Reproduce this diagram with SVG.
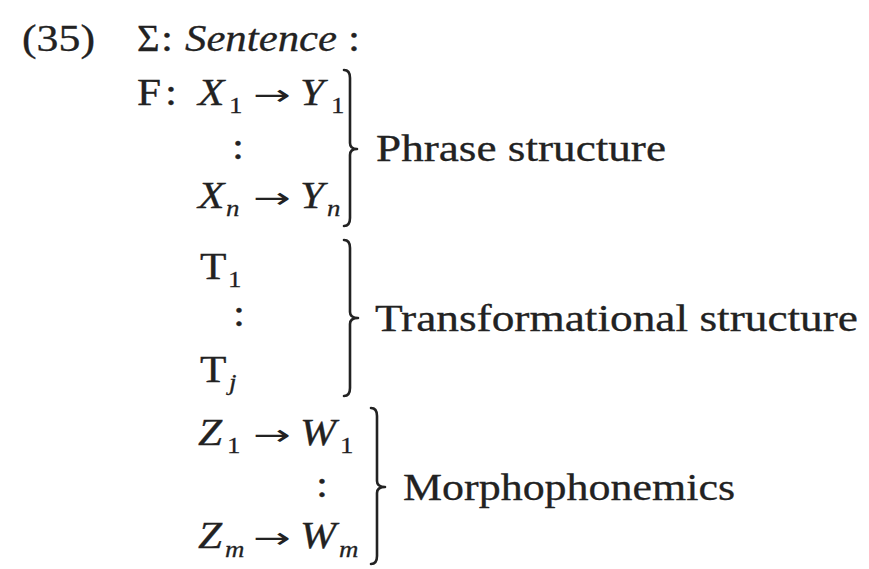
<svg xmlns="http://www.w3.org/2000/svg" width="869" height="569" viewBox="0 0 869 569">
<style>
text { font-family: "Liberation Serif", "Times New Roman", serif; fill: #222222; stroke: #222222; stroke-width: 0.3; font-size: 37px; }
.i { font-style: italic; }
.s { font-size: 23px; stroke-width: 0.25; }
.ar { font-family: "DejaVu Sans", sans-serif; font-size: 29px; stroke-width: 0; }
.br { fill: none; stroke: #222222; stroke-width: 2.6; stroke-linecap: round; stroke-linejoin: round; }
</style>
<rect width="869" height="569" fill="#ffffff"/>
<g id="header">
<text x="22" y="51" textLength="73" lengthAdjust="spacingAndGlyphs">(35)</text>
<text transform="translate(137 51) scale(1.05 1)">Σ</text>
<text transform="translate(161 51) scale(1.17 1)">:</text>
<text class="i" x="185" y="51" textLength="152" lengthAdjust="spacingAndGlyphs">Sentence</text>
<text transform="translate(348 51) scale(1.17 1)">:</text>
</g>
<g id="phrase">
<text transform="translate(137 105) scale(1.17 1)">F</text>
<text transform="translate(165 105) scale(1.17 1)">:</text>
<text class="i" transform="translate(198 105) scale(1.17 1)">X</text>
<text class="s" transform="translate(229 113) scale(1.17 1)">1</text>
<text class="ar" transform="translate(253 105) scale(1.55 1)">→</text>
<text class="i" transform="translate(300 105) scale(1.17 1)">Y</text>
<text class="s" transform="translate(331 113) scale(1.17 1)">1</text>
<text transform="translate(232 159) scale(1.17 1)">:</text>
<text class="i" transform="translate(198 208) scale(1.17 1)">X</text>
<text class="s i" transform="translate(226 216) scale(1.17 1)">n</text>
<text class="ar" transform="translate(253 208) scale(1.55 1)">→</text>
<text class="i" transform="translate(300 208) scale(1.17 1)">Y</text>
<text class="s i" transform="translate(327 216) scale(1.17 1)">n</text>
<path class="br" d="M344 70 Q350 70 350 78 L350 143 Q350 149 357 149 Q350 149 350 155 L350 218 Q350 226 344 226"/>
<text x="376" y="161" textLength="290" lengthAdjust="spacingAndGlyphs">Phrase structure</text>
</g>
<g id="transformational">
<text transform="translate(200 279) scale(1.17 1)">T</text>
<text class="s" transform="translate(228 287) scale(1.17 1)">1</text>
<text transform="translate(233 326) scale(1.17 1)">:</text>
<text transform="translate(200 382) scale(1.17 1)">T</text>
<text class="s i" transform="translate(229 390) scale(1.17 1)">j</text>
<path class="br" d="M344 240 Q350 240 350 248 L350 312 Q350 318 358 318 Q350 318 350 324 L350 388 Q350 396 344 396"/>
<text x="375" y="331" textLength="483" lengthAdjust="spacingAndGlyphs">Transformational structure</text>
</g>
<g id="morphophonemics">
<text class="i" transform="translate(198 445) scale(1.17 1)">Z</text>
<text class="s" transform="translate(227 453) scale(1.17 1)">1</text>
<text class="ar" transform="translate(253 445) scale(1.55 1)">→</text>
<text class="i" transform="translate(300 445) scale(1.17 1)">W</text>
<text class="s" transform="translate(340 453) scale(1.17 1)">1</text>
<text transform="translate(316 497) scale(1.17 1)">:</text>
<text class="i" transform="translate(198 548) scale(1.17 1)">Z</text>
<text class="s i" transform="translate(225 557) scale(1.17 1)">m</text>
<text class="ar" transform="translate(253 548) scale(1.55 1)">→</text>
<text class="i" transform="translate(300 548) scale(1.17 1)">W</text>
<text class="s i" transform="translate(339 557) scale(1.17 1)">m</text>
<path class="br" d="M371 408 Q377 408 377 416 L377 481 Q377 487 385 487 Q377 487 377 493 L377 556 Q377 564 371 564"/>
<text x="403" y="500" textLength="332" lengthAdjust="spacingAndGlyphs">Morphophonemics</text>
</g>
</svg>
